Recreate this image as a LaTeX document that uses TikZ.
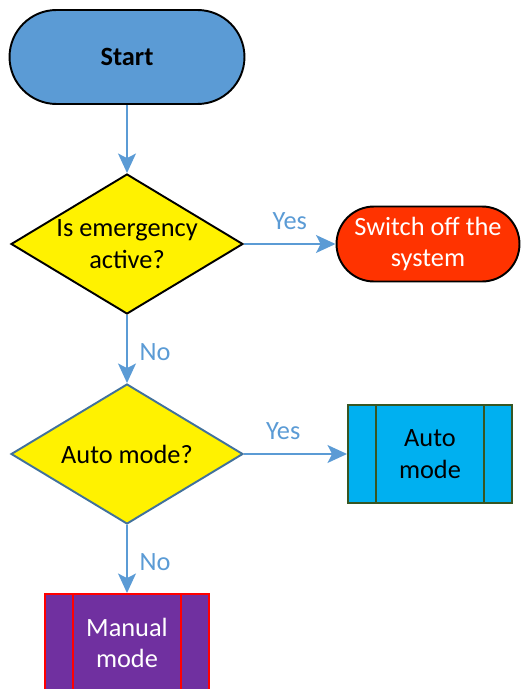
\documentclass[tikz,border=0pt]{standalone}
\usepackage{fontspec}
\setmainfont{Carlito}
\usetikzlibrary{shapes.geometric,arrows.meta}

\definecolor{officeblue}{HTML}{5B9BD5}
\definecolor{darkblue}{HTML}{41719C}
\definecolor{alarmred}{HTML}{FF3300}
\definecolor{autocyan}{HTML}{00B0F0}
\definecolor{autogreen}{HTML}{375623}
\definecolor{manpurple}{HTML}{7030A0}

\tikzset{
  capsule/.style={draw=black, line width=1.1pt, align=center, inner sep=0pt},
  decision/.style={diamond, aspect=1.66, draw=black, line width=1.1pt, fill=yellow,
    minimum width=4.64cm, minimum height=2.8cm, inner sep=0pt, align=center},
  process/.style={rectangle, line width=1.1pt, minimum width=3.28cm,
    minimum height=1.96cm, align=center},
  flow/.style={draw=officeblue, line width=1.7pt,
    -{Stealth[length=11pt, width=10pt, inset=2.5pt]}},
  answer/.style={text=officeblue}
}

\begin{document}
\begin{tikzpicture}[x=0.02cm, y=-0.02cm, font=\fontsize{15}{18}\selectfont]
\useasboundingbox (0,0) rectangle (521,689);

% Start
\node[capsule, fill=officeblue, minimum width=4.7cm, minimum height=1.88cm,
  rounded corners=0.94cm, font=\fontsize{15}{18}\selectfont\bfseries] (start) at (127,57) {Start};

% Decisions
\node[decision] (emerg) at (127,244) {Is emergency\\active?};
\node[decision, draw=darkblue] (auto) at (127,454) {Auto mode?};

% Switch off
\node[capsule, fill=alarmred, text=white, minimum width=3.66cm, minimum height=1.5cm,
  rounded corners=0.75cm] (off) at (428,244) {Switch off the\\system};

% Auto mode box
\node[process, draw=autogreen, fill=autocyan] (autobox) at (430,454) {Auto\\mode};
\draw[autogreen, line width=1.1pt] ([xshift=0.57cm]autobox.north west) -- ([xshift=0.57cm]autobox.south west);
\draw[autogreen, line width=1.1pt] ([xshift=-0.57cm]autobox.north east) -- ([xshift=-0.57cm]autobox.south east);

% Manual mode box
\node[process, draw=red, fill=manpurple, text=white] (manual) at (127,643) {Manual\\mode};
\draw[red, line width=1.1pt] ([xshift=0.57cm]manual.north west) -- ([xshift=0.57cm]manual.south west);
\draw[red, line width=1.1pt] ([xshift=-0.57cm]manual.north east) -- ([xshift=-0.57cm]manual.south east);

% Arrows
\draw[flow] (start) -- (emerg);
\draw[flow] (emerg) -- (off) node[answer, midway, above=4pt] {Yes};
\draw[flow] (emerg) -- (auto) node[answer, midway, right=3pt, yshift=-2pt] {No};
\draw[flow] (auto) -- (autobox) node[answer, midway, above=4pt, xshift=-7pt] {Yes};
\draw[flow] (auto) -- (manual) node[answer, midway, right=3pt, yshift=-2pt] {No};

\end{tikzpicture}
\end{document}
